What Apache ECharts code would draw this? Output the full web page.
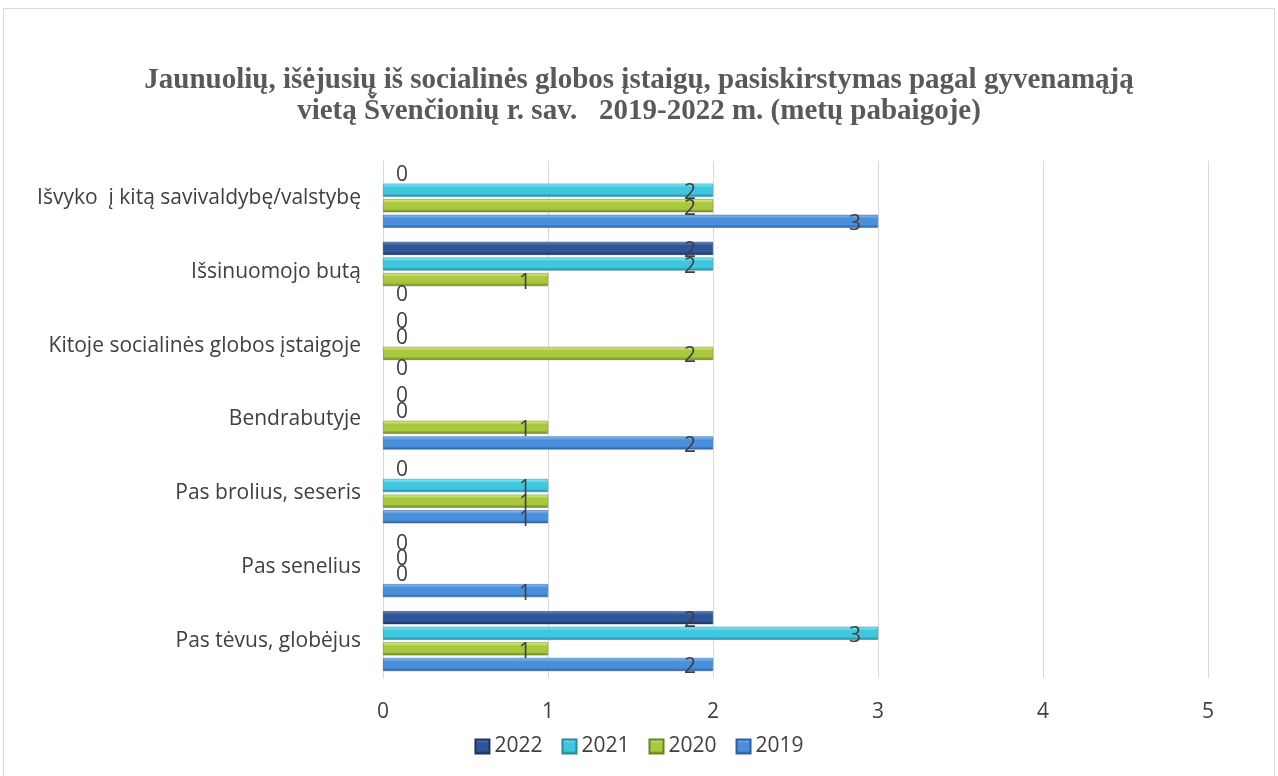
<!DOCTYPE html>
<html><head><meta charset="utf-8">
<script src="https://cdn.jsdelivr.net/npm/echarts@6/dist/echarts.min.js"></script>
<style>html,body{margin:0;padding:0;background:#fff}#c{width:1278px;height:776px}</style>
</head><body><div id="c"></div>
<script>
const categories = ['Pas tėvus, globėjus','Pas senelius','Pas brolius, seseris','Bendrabutyje','Kitoje socialinės globos įstaigoje','Išsinuomojo butą','Išvyko  į kitą savivaldybę/valstybę'];
const years = ['2022','2021','2020','2019'];
const v2019 = [2,1,1,2,0,0,3];
const v2020 = [1,0,1,1,2,1,2];
const v2021 = [3,0,1,0,0,2,2];
const v2022 = [2,0,0,0,0,2,0];
const xTicks = [0,1,2,3,4,5];

const grads = {
  '2022': ['#5B82C4','#2F5597','#1C355F'],
  '2021': ['#8BEEFB','#3FC7DF','#2689A0'],
  '2020': ['#DDF08A','#A9C83D','#6A8420'],
  '2019': ['#86BFF3','#4A8FDA','#2C5EA3']
};
const FONT = 'Open Sans';
function grad(c){return new echarts.graphic.LinearGradient(0,0,0,1,[
  {offset:0,color:c[0]},{offset:0.3,color:c[1]},{offset:0.75,color:c[1]},{offset:1,color:c[2]}]);}
function mk(name, vals){
  return {
    name, type:'bar', barWidth:13, barGap:'20%',
    itemStyle:{color:grad(grads[name]), borderColor:grads[name][2], borderWidth:0.5},
    label:{show:true, position:'insideRight', offset:[-12,3], color:'#404040', fontSize:21, fontFamily:FONT},
    data: vals.map(v => v===0 ? {value:0, itemStyle:{borderWidth:0, color:'rgba(0,0,0,0)'}, label:{position:'right', offset:[8,0]}} : v)
  };
}
const chart = echarts.init(document.getElementById('c'));
chart.setOption({
  animation:false,
  title:{text:'Jaunuolių, išėjusių iš socialinės globos įstaigų, pasiskirstymas pagal gyvenamąją\nvietą Švenčionių r. sav.   2019-2022 m. (metų pabaigoje)',
    left:'center', top:60, textStyle:{fontFamily:'Liberation Serif', fontWeight:'bold', fontSize:29, color:'#595959', lineHeight:31}},
  graphic:[{type:'rect', shape:{x:3.5,y:8.5,width:1271,height:775}, style:{fill:'none', stroke:'#d9d9d9', lineWidth:1}}],
  legend:{data:years, bottom:14, left:'center', itemWidth:14, itemHeight:14, itemGap:19, icon:'rect',
    textStyle:{fontSize:21, color:'#404040', fontFamily:FONT}},
  grid:{left:383, right:70, top:161, bottom:98},
  xAxis:{type:'value', min:0, max:5, interval:1,
    axisLine:{show:false}, axisTick:{show:false},
    splitLine:{lineStyle:{color:'#d9d9d9'}},
    axisLabel:{fontSize:21, color:'#404040', margin:24, fontFamily:FONT, formatter:v=>xTicks.includes(v)?String(v):''}},
  yAxis:{type:'category', data:categories,
    axisLine:{show:true, lineStyle:{color:'#d9d9d9'}}, axisTick:{show:false},
    axisLabel:{fontSize:21, color:'#404040', margin:22, fontFamily:FONT}},
  series:[mk('2022',v2022), mk('2021',v2021), mk('2020',v2020), mk('2019',v2019)]
});
</script></body></html>
